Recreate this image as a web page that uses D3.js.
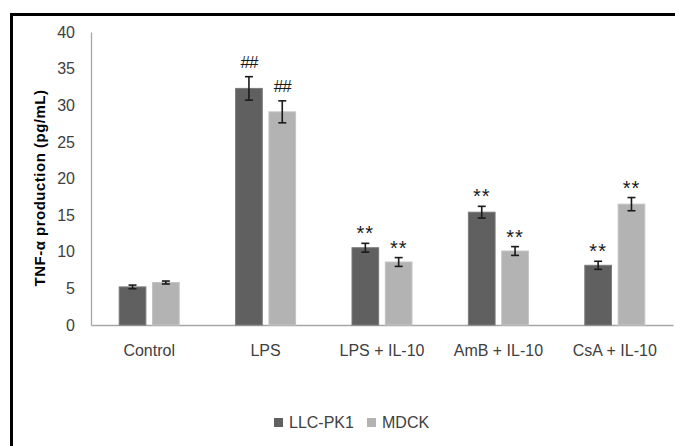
<!DOCTYPE html>
<html>
<head>
<meta charset="utf-8">
<script src="https://cdn.jsdelivr.net/npm/d3@7"></script>
<style>
    body { margin: 0; background: #fff; }
    svg text { font-family: "Liberation Sans", Arial, sans-serif; }
</style>
</head>
<body>
<div class="graph"></div>
<script>
// Chart data
const categories = ["Control", "LPS", "LPS + IL-10", "AmB + IL-10", "CsA + IL-10"];
const seriesNames = ["LLC-PK1", "MDCK"];
const llcValues = [5.2, 32.3, 10.55, 15.4, 8.15];
const llcErrors = [0.25, 1.6, 0.6, 0.8, 0.55];
const mdckValues = [5.8, 29.1, 8.6, 10.1, 16.5];
const mdckErrors = [0.2, 1.5, 0.6, 0.6, 0.9];
const llcMarks = ["", "##", "**", "**", "**"];
const mdckMarks = ["", "##", "**", "**", "**"];
const yTicks = [0, 5, 10, 15, 20, 25, 30, 35, 40];

const colors = ["#606060", "#b3b3b3"];

// Build rows for the bars
const rows = [];
categories.forEach((c, i) => {
    rows.push({cat: c, series: 0, value: llcValues[i], err: llcErrors[i], mark: llcMarks[i]});
    rows.push({cat: c, series: 1, value: mdckValues[i], err: mdckErrors[i], mark: mdckMarks[i]});
});

const dimensions = {
    width: 675,
    height: 446,
    margins: {top: 32, right: 2, bottom: 121, left: 91}
};
dimensions.boundedWidth = dimensions.width - dimensions.margins.left - dimensions.margins.right;
dimensions.boundedHeight = dimensions.height - dimensions.margins.top - dimensions.margins.bottom;

const wrapper = d3.select(".graph")
    .append("svg")
        .attr("width", dimensions.width)
        .attr("height", dimensions.height);

// Outer frame (cropped at right and bottom in the original)
wrapper.append("rect")
    .attr("x", 11.5)
    .attr("y", 14.5)
    .attr("width", 700)
    .attr("height", 500)
    .attr("fill", "none")
    .attr("stroke", "#000")
    .attr("stroke-width", 3);

const bounds = wrapper.append("g")
    .attr("transform", `translate(${dimensions.margins.left},${dimensions.margins.top})`);

const yScale = d3.scaleLinear()
    .domain([0, 40])
    .range([dimensions.boundedHeight, 0]);

const xScale = d3.scaleBand()
    .domain(categories)
    .range([0, dimensions.boundedWidth]);

const innerScale = d3.scaleBand()
    .domain([0, 1])
    .range([0, 60])
    .paddingInner(0.2);

// Y axis
const yAxis = bounds.append("g")
    .call(d3.axisLeft(yScale).tickValues(yTicks).tickSize(0).tickPadding(16));
yAxis.select(".domain").attr("stroke", "#a6a6a6").attr("stroke-width", 1.3);
yAxis.selectAll("text")
    .attr("fill", "#404040")
    .style("font-size", "16px");

// X axis
const xAxis = bounds.append("g")
    .attr("transform", `translate(0,${dimensions.boundedHeight})`)
    .call(d3.axisBottom(xScale).tickSize(0).tickPadding(20));
xAxis.select(".domain").attr("stroke", "#a6a6a6").attr("stroke-width", 1.5);
xAxis.selectAll("text")
    .attr("fill", "#404040")
    .style("font-size", "16px");

// Bars
const groupOffset = d => xScale(d.cat) + (xScale.bandwidth() - 60) / 2 + innerScale(d.series);

bounds.append("g")
    .selectAll("rect")
    .data(rows)
    .join("rect")
        .attr("x", d => groupOffset(d))
        .attr("y", d => yScale(d.value))
        .attr("width", innerScale.bandwidth())
        .attr("height", d => dimensions.boundedHeight - yScale(d.value))
        .attr("fill", d => colors[d.series])
        .attr("stroke", d => d.series === 0 ? "#7a7a7a" : "#c4c4c4")
        .attr("stroke-width", 1);

// Error bars
const errs = bounds.append("g")
    .attr("stroke", "#1a1a1a")
    .attr("stroke-width", 1.6)
    .selectAll("g")
    .data(rows)
    .join("g")
        .attr("transform", d => `translate(${groupOffset(d) + innerScale.bandwidth() / 2},0)`);

errs.append("line")
    .attr("y1", d => yScale(d.value + d.err))
    .attr("y2", d => yScale(d.value - d.err));
errs.append("line")
    .attr("x1", -4).attr("x2", 4)
    .attr("y1", d => yScale(d.value + d.err))
    .attr("y2", d => yScale(d.value + d.err));
errs.append("line")
    .attr("x1", -4).attr("x2", 4)
    .attr("y1", d => yScale(d.value - d.err))
    .attr("y2", d => yScale(d.value - d.err));

// Significance marks
bounds.append("g")
    .selectAll("text")
    .data(rows.filter(d => d.mark))
    .join("text")
        .attr("x", d => groupOffset(d) + innerScale.bandwidth() / 2)
        .attr("y", d => yScale(d.value + d.err) - (d.mark === "##" ? 9 : 3))
        .attr("text-anchor", "middle")
        .attr("fill", "#1a1a1a")
        .style("font-size", d => d.mark === "##" ? "17px" : "20px")
        .style("letter-spacing", d => d.mark === "##" ? "-1px" : "1px")
        .text(d => d.mark);

// Y axis title
wrapper.append("text")
    .attr("transform", "translate(45,188) rotate(-90)")
    .attr("text-anchor", "middle")
    .attr("fill", "#000")
    .style("font-size", "15px")
    .style("font-weight", "bold")
    .style("letter-spacing", "0.5px")
    .text("TNF-α production (pg/mL)");

// Legend
const legend = wrapper.append("g")
    .attr("transform", "translate(274,418)");
const legendX = [0, 93];
const items = legend.selectAll("g")
    .data(seriesNames)
    .join("g")
        .attr("transform", (d, i) => `translate(${legendX[i]},0)`);
items.append("rect")
    .attr("width", 9)
    .attr("height", 9)
    .attr("fill", (d, i) => colors[i]);
items.append("text")
    .attr("x", 15)
    .attr("y", 10)
    .attr("fill", "#404040")
    .style("font-size", "16px")
    .text(d => d);
</script>
</body>
</html>
